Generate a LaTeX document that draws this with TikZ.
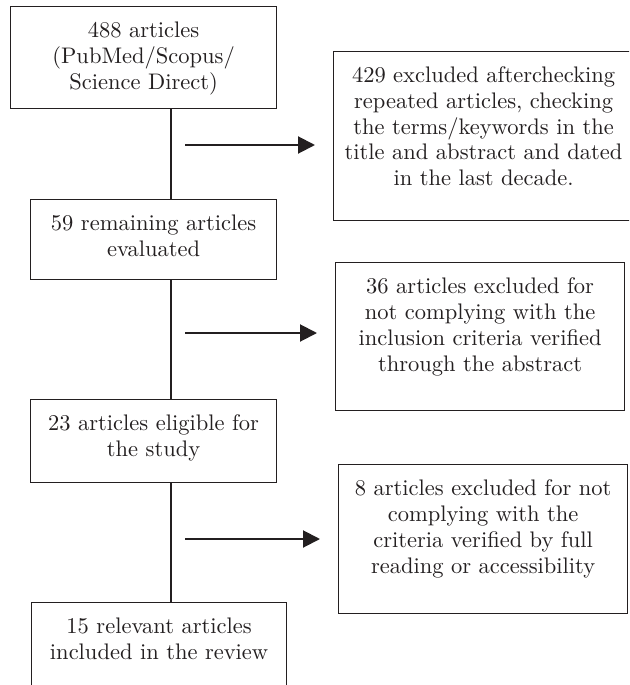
\documentclass[tikz,border=0pt]{standalone}
\usepackage{fontspec}
\setmainfont{lmroman10-regular}[Extension=.otf]
\usetikzlibrary{arrows.meta}
\definecolor{ink}{HTML}{231F20}
\newcommand{\boxtop}{\rule{0pt}{31pt}}
\newcommand{\boxbot}[1]{\rule[-#1]{0pt}{#1}}
\begin{document}
\begin{tikzpicture}[x=1pt,y=-1pt,
    stage/.style={draw=ink,line width=1.2pt,anchor=north west,align=center,
      inner xsep=0pt,inner ysep=0pt,text=ink,font=\fontsize{22.5}{25.8}\selectfont},
    flow/.style={-{Triangle[length=17pt,width=17pt]},line width=2pt,draw=ink,shorten >=18pt}]
    \useasboundingbox (0,0) rectangle (629,685);
    \fill[white] (0,0) rectangle (629,685);
    \clip (0,0) rectangle (629,685);
    \node[stage,text width=266pt] (src) at (10,6)
        {\boxtop 488 articles\\(PubMed/Scopus/\\Science Direct)\boxbot{19.4pt}};
    \node[stage,text width=246pt] (remain) at (30,199)
        {\boxtop 59 remaining articles\\evaluated\boxbot{23.2pt}};
    \node[stage,text width=246pt] (elig) at (30,399)
        {\boxtop 23 articles eligible for\\the study\boxbot{26.2pt}};
    \node[stage,text width=255pt] (incl) at (31,602)
        {\boxtop 15 relevant articles\\included in the review\boxbot{60pt}};
    \node[stage,text width=300pt] (excl1) at (333,51)
        {\boxtop 429 excluded afterchecking\\repeated articles, checking\\the terms/keywords in the\\title and abstract and dated\\in the last decade.\boxbot{34.8pt}};
    \node[stage,text width=289pt] (excl2) at (335,262)
        {\boxtop 36 articles excluded for\\not complying with the\\inclusion criteria verified\\through the abstract\boxbot{39.6pt}};
    \node[stage,text width=289pt] (excl3) at (338,464)
        {\boxtop 8 articles excluded for not\\complying with the\\criteria verified by full\\reading or accessibility\boxbot{40.6pt}};
    \coordinate (spine) at (171,0);
    \draw[ink,line width=1.2pt] (src.south -| spine) -- (remain.north -| spine);
    \draw[ink,line width=1.2pt] (remain.south -| spine) -- (elig.north -| spine);
    \draw[ink,line width=1.2pt] (elig.south -| spine) -- (incl.north -| spine);
    \coordinate (a1) at (185,145);
    \coordinate (a2) at (185,333);
    \coordinate (a3) at (185,539);
    \draw[flow] (a1) -- (a1 -| excl1.west);
    \draw[flow] (a2) -- (a2 -| excl2.west);
    \draw[flow] (a3) -- (a3 -| excl3.west);
\end{tikzpicture}
\end{document}
